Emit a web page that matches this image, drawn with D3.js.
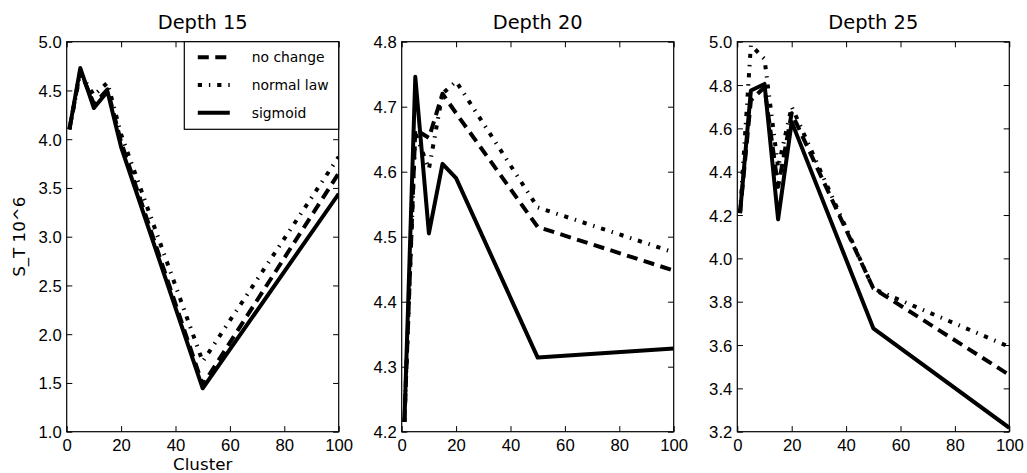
<!DOCTYPE html>
<html>
<head>
<meta charset="utf-8">
<script src="https://cdn.jsdelivr.net/npm/d3@7"></script>
<style>
  html, body { margin: 0; padding: 0; background: #fff; }
  svg { display: block; font-family: "DejaVu Sans", sans-serif; }
  .tick-lbl { font-size: 16.7px; fill: #000; }
  .title { font-size: 19.4px; fill: #000; }
  .axis-lbl { font-size: 16.7px; fill: #000; }
  .legend-lbl { font-size: 13.9px; fill: #000; }
</style>
</head>
<body>
<svg id="chart" width="1027" height="473"></svg>
<script>
// ── Data ──────────────────────────────────────────────────────────────────────
const CLUSTERS = [1, 5, 10, 15, 20, 50, 100];
const TITLES   = ["Depth 15", "Depth 20", "Depth 25"];
const X_TICKS  = [0, 20, 40, 60, 80, 100];

const Y_TICKS_15 = [1.0, 1.5, 2.0, 2.5, 3.0, 3.5, 4.0, 4.5, 5.0];
const Y_TICKS_20 = [4.2, 4.3, 4.4, 4.5, 4.6, 4.7, 4.8];
const Y_TICKS_25 = [3.2, 3.4, 3.6, 3.8, 4.0, 4.2, 4.4, 4.6, 4.8, 5.0];

const D15_NO_CHANGE = [4.10, 4.70, 4.36, 4.51, 3.97, 1.48, 3.65];
const D15_NORMAL    = [4.10, 4.68, 4.45, 4.58, 4.05, 1.72, 3.82];
const D15_SIGMOID   = [4.10, 4.73, 4.32, 4.49, 3.92, 1.445, 3.44];

const D20_NO_CHANGE = [4.215, 4.665, 4.652, 4.72, 4.69, 4.515, 4.448];
const D20_NORMAL    = [4.215, 4.66, 4.604, 4.72, 4.739, 4.545, 4.476];
const D20_SIGMOID   = [4.215, 4.746, 4.505, 4.612, 4.59, 4.314, 4.328];

const D25_NO_CHANGE = [4.21, 4.73, 4.79, 4.33, 4.67, 3.862, 3.462];
const D25_NORMAL    = [4.21, 4.985, 4.92, 4.42, 4.70, 3.86, 3.592];
const D25_SIGMOID   = [4.208, 4.775, 4.805, 4.18, 4.63, 3.677, 3.218];

const SERIES_NAMES = ["no change", "normal law", "sigmoid"];

// ── Layout ───────────────────────────────────────────────────────────────────
const svg = d3.select("#chart");
const TOP = 41.7, H = 390, W = 272;
const LEFTS = [66.7, 401.7, 737.3];
const DASH = { "no change": "11,6.5", "normal law": "4.2,6.9,1.4,6.9", "sigmoid": null };

const panels = [
  { ticks: Y_TICKS_15, data: [D15_NO_CHANGE, D15_NORMAL, D15_SIGMOID] },
  { ticks: Y_TICKS_20, data: [D20_NO_CHANGE, D20_NORMAL, D20_SIGMOID] },
  { ticks: Y_TICKS_25, data: [D25_NO_CHANGE, D25_NORMAL, D25_SIGMOID] },
];

panels.forEach((p, i) => {
  const g = svg.append("g").attr("transform", `translate(${LEFTS[i]},${TOP})`);
  const x = d3.scaleLinear().domain([0, 100]).range([0, W]);
  const y = d3.scaleLinear().domain(d3.extent(p.ticks)).range([H, 0]);

  g.append("clipPath").attr("id", `clip${i}`)
    .append("rect").attr("width", W).attr("height", H);

  // Lines
  const line = d3.line().x((d, k) => x(CLUSTERS[k])).y(d => y(d));
  const linesG = g.append("g").attr("clip-path", `url(#clip${i})`);
  p.data.forEach((vals, s) => {
    linesG.append("path")
      .attr("d", line(vals))
      .attr("fill", "none")
      .attr("stroke", "#000")
      .attr("stroke-width", 4)
      .attr("stroke-linejoin", "round")
      .attr("stroke-dasharray", DASH[SERIES_NAMES[s]]);
  });

  // Ticks inward on all four sides
  const tickLen = 5.6;
  const axB = g.append("g").attr("transform", `translate(0,${H})`)
    .call(d3.axisBottom(x).tickValues(X_TICKS).tickSize(-tickLen).tickPadding(8).tickFormat(d3.format("d")));
  const axT = g.append("g")
    .call(d3.axisTop(x).tickValues(X_TICKS).tickSize(-tickLen).tickFormat(""));
  const axL = g.append("g")
    .call(d3.axisLeft(y).tickValues(p.ticks).tickSize(-tickLen).tickPadding(5).tickFormat(d3.format(".1f")));
  const axR = g.append("g").attr("transform", `translate(${W},0)`)
    .call(d3.axisRight(y).tickValues(p.ticks).tickSize(-tickLen).tickFormat(""));
  [axB, axT, axL, axR].forEach(a => {
    a.select(".domain").remove();
    a.selectAll(".tick line").attr("stroke", "#000").attr("stroke-width", 1);
    a.selectAll(".tick text").attr("class", "tick-lbl").attr("font-family", null).attr("font-size", null);
  });
  axB.selectAll(".tick text").attr("dy", null).attr("y", 19).attr("dominant-baseline", "auto");
  axL.selectAll(".tick text").attr("dy", "0.36em");

  // Frame
  g.append("rect").attr("width", W).attr("height", H)
    .attr("fill", "none").attr("stroke", "#000").attr("stroke-width", 1.2);

  // Title
  svg.append("text").attr("class", "title")
    .attr("x", LEFTS[i] + W / 2).attr("y", 28.5)
    .attr("text-anchor", "middle").text(TITLES[i]);

  if (i === 0) {
    // Axis labels
    svg.append("text").attr("class", "axis-lbl")
      .attr("x", LEFTS[0] + W / 2).attr("y", 470)
      .attr("text-anchor", "middle").text("Cluster");
    svg.append("text").attr("class", "axis-lbl")
      .attr("transform", "rotate(-90)")
      .attr("x", -(TOP + H / 2)).attr("y", 25)
      .attr("text-anchor", "middle").text("S_T 10^6");

    // Legend (upper right corner)
    const lx = 184.3 - LEFTS[0];
    const legG = g.append("g").attr("transform", `translate(${lx},0)`);
    legG.append("rect").attr("width", W - lx).attr("height", 87.6)
      .attr("fill", "#fff").attr("stroke", "#000").attr("stroke-width", 1.2);
    SERIES_NAMES.forEach((name, s) => {
      const row = legG.append("g").attr("transform", `translate(0,${15.5 + s * 27.8})`);
      row.append("line").attr("x1", 13.5).attr("x2", 45.5)
        .attr("stroke", "#000").attr("stroke-width", 4)
        .attr("stroke-dasharray", DASH[name]);
      row.append("text").attr("class", "legend-lbl")
        .attr("x", 67.4).attr("dy", "0.36em").text(name);
    });
  }
});
</script>
</body>
</html>
